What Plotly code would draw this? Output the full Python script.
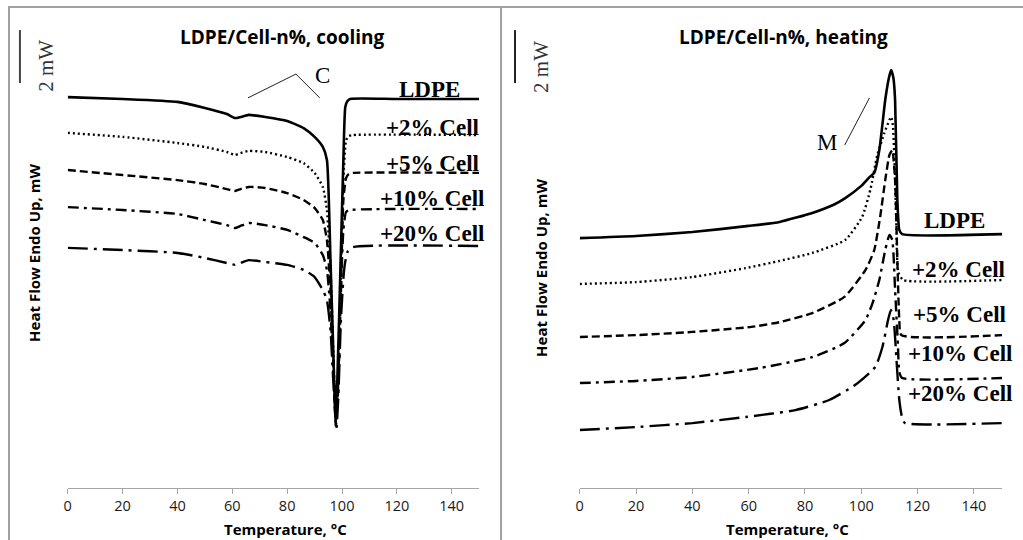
import plotly.graph_objects as go

# ---------------- data (heat flow in mW, curves offset vertically) ----------------
cool_ldpe_T = [0, 20, 40, 50, 58, 61, 63, 66, 72, 80, 86, 90, 93, 94.5, 95.8, 96.8, 97.6, 98.3, 99.5, 100.5, 101.2, 102, 103, 120, 150]
cool_ldpe_Q = [14.75, 14.68, 14.57, 14.34, 14.11, 13.96, 14.00, 14.08, 14.00, 13.85, 13.58, 13.25, 12.87, 12.38, 8.60, 5.21, 2.75, 4.08, 8.60, 12.38, 14.38, 14.60, 14.68, 14.68, 14.68]

cool_2_T = [0, 20, 40, 50, 58, 61, 63, 66, 72, 80, 86, 90, 93, 94.5, 95.8, 96.8, 97.8, 98.5, 99.5, 100.5, 101.5, 102.5, 104, 150]
cool_2_Q = [13.40, 13.25, 13.02, 12.87, 12.68, 12.57, 12.64, 12.72, 12.68, 12.49, 12.26, 11.89, 11.36, 10.49, 8.23, 5.21, 2.38, 3.70, 7.85, 11.62, 13.13, 13.28, 13.32, 13.32]

cool_5_T = [0, 20, 40, 50, 58, 61, 63, 66, 72, 80, 86, 90, 93, 94.5, 95.8, 96.8, 97.8, 98.5, 99.5, 100.5, 101.5, 102.5, 104, 150]
cool_5_Q = [12.00, 11.81, 11.62, 11.47, 11.28, 11.21, 11.28, 11.36, 11.32, 11.13, 10.87, 10.57, 10.11, 9.36, 7.47, 4.83, 2.57, 3.51, 7.09, 10.87, 11.70, 11.85, 11.89, 11.89]

cool_10_T = [0, 20, 40, 50, 58, 61, 63, 66, 72, 80, 86, 90, 93, 94.5, 95.8, 96.8, 97.8, 98.5, 99.5, 100.5, 101.5, 103, 150]
cool_10_Q = [10.60, 10.49, 10.34, 10.11, 9.92, 9.81, 9.89, 10.00, 9.92, 9.74, 9.47, 9.25, 8.79, 8.23, 6.72, 4.45, 2.75, 3.70, 7.09, 9.74, 10.42, 10.49, 10.53]

cool_20_T = [0, 20, 40, 50, 58, 61, 63, 66, 72, 80, 86, 90, 93, 94.5, 95.8, 96.8, 97.9, 98.6, 99.6, 100.5, 101, 102, 104, 150]
cool_20_Q = [9.06, 8.98, 8.87, 8.68, 8.49, 8.42, 8.49, 8.60, 8.53, 8.42, 8.23, 7.96, 7.47, 7.09, 5.96, 4.08, 2.19, 3.32, 6.34, 7.90, 8.42, 8.91, 9.09, 9.13]

heat_ldpe_T = [0, 20, 40, 60, 71, 82.6, 90, 94.3, 100, 103, 104.6, 106.4, 108.5, 109.8, 110.6, 111.4, 112, 112.8, 113.5, 114.5, 150]
heat_ldpe_Q = [9.43, 9.51, 9.66, 9.89, 10.04, 10.38, 10.68, 10.94, 11.40, 11.74, 11.89, 12.75, 14.64, 15.47, 15.77, 15.47, 14.64, 10.87, 9.74, 9.58, 9.58]

heat_2_T = [0, 20, 40, 59, 71, 82.6, 94.3, 100.3, 103.2, 105.7, 108.2, 110, 110.6, 111.2, 111.9, 112.5, 113.1, 114.9, 150]
heat_2_Q = [7.70, 7.77, 7.96, 8.30, 8.57, 8.87, 9.36, 10.23, 11.25, 12.57, 13.40, 13.89, 14.00, 13.70, 12.00, 9.74, 8.15, 7.85, 7.85]

heat_5_T = [0, 20, 40, 61, 71, 82.6, 94, 101.5, 104.6, 106.7, 108.5, 110, 111, 112, 112.8, 113.5, 114.2, 150]
heat_5_Q = [5.70, 5.77, 5.89, 6.08, 6.26, 6.60, 7.21, 8.23, 8.98, 10.23, 11.62, 12.57, 12.75, 11.62, 8.60, 6.34, 5.77, 5.77]

heat_10_T = [0, 20, 40, 64, 82.6, 94, 101.5, 104, 106.4, 108.5, 110, 111, 112, 113, 113.5, 114.5, 150]
heat_10_Q = [3.96, 4.04, 4.19, 4.53, 4.94, 5.47, 6.34, 6.98, 7.85, 8.98, 9.55, 9.36, 7.47, 5.40, 4.38, 4.15, 4.15]

heat_20_T = [0, 20, 40, 59, 76.6, 88.6, 97.8, 105, 107.5, 109.5, 110.5, 111.5, 112.5, 113.5, 114.5, 115.5, 150]
heat_20_Q = [2.19, 2.30, 2.45, 2.68, 2.94, 3.32, 3.89, 4.57, 5.32, 6.34, 6.72, 6.34, 4.83, 3.32, 2.64, 2.45, 2.45]

series_names = ["LDPE", "+2% Cell", "+5% Cell", "+10% Cell", "+20% Cell"]
tick_vals = [0, 20, 40, 60, 80, 100, 120, 140]

cool_label_T = [131.8, 132.9, 132.9, 132.9, 132.9]
cool_label_Q = [15.02, 13.62, 12.26, 10.94, 9.62]
heat_label_T = [133.0, 134.4, 134.8, 135.1, 135.1]
heat_label_Q = [10.11, 8.23, 6.53, 5.09, 3.58]

# ---------------- figure ----------------
dashes = ["solid", "2px,3px", "8px,4px", "11px,5px,3px,5px", "20px,6px,3px,6px"]
widths = [2.6, 2.4, 2.4, 2.4, 2.4]

cool = [(cool_ldpe_T, cool_ldpe_Q), (cool_2_T, cool_2_Q), (cool_5_T, cool_5_Q),
        (cool_10_T, cool_10_Q), (cool_20_T, cool_20_Q)]
heat = [(heat_ldpe_T, heat_ldpe_Q), (heat_2_T, heat_2_Q), (heat_5_T, heat_5_Q),
        (heat_10_T, heat_10_Q), (heat_20_T, heat_20_Q)]

fig = go.Figure()
for i, (t, q) in enumerate(cool):
    fig.add_trace(go.Scatter(x=t, y=q, mode="lines", name=series_names[i], xaxis="x", yaxis="y",
                             line=dict(color="black", width=widths[i], dash=dashes[i],
                                       shape="spline", smoothing=0.5), showlegend=False))
for i, (t, q) in enumerate(heat):
    fig.add_trace(go.Scatter(x=t, y=q, mode="lines", name=series_names[i], xaxis="x2", yaxis="y2",
                             line=dict(color="black", width=widths[i], dash=dashes[i],
                                       shape="spline", smoothing=0.5), showlegend=False))

W, H = 1023, 540
YMAX = 480 / 26.5
axis_common = dict(range=[0, 150], tickvals=tick_vals, showgrid=False, zeroline=False,
                   showline=True, linecolor="#a6a6a6", linewidth=1, ticks="outside",
                   tickcolor="#a6a6a6", ticklen=5,
                   tickfont=dict(family="Open Sans", size=14.5, color="#1a1a1a"))
yaxis_common = dict(range=[0, YMAX], visible=False, domain=[52 / H, 532 / H])

fig.update_layout(
    width=W, height=H, margin=dict(l=0, r=0, t=0, b=0),
    paper_bgcolor="white", plot_bgcolor="white",
    xaxis=dict(domain=[64 / W, 477 / W], anchor="y", **axis_common),
    xaxis2=dict(domain=[578 / W, 1002 / W], anchor="y2", **axis_common),
    yaxis=dict(anchor="x", **yaxis_common),
    yaxis2=dict(anchor="x2", **yaxis_common),
)


def txt(x, y, text, font, xref="paper", yref="paper", angle=0):
    return dict(x=x, y=y, xref=xref, yref=yref, text=text, showarrow=False, font=font,
                xanchor="center", yanchor="middle", textangle=angle)


ann = []
lab_font = dict(family="Liberation Serif", size=23, color="black")
for i in range(5):
    ann.append(txt(cool_label_T[i], cool_label_Q[i], "<b>%s</b>" % series_names[i], lab_font, "x", "y"))
    ann.append(txt(heat_label_T[i], heat_label_Q[i], "<b>%s</b>" % series_names[i], lab_font, "x2", "y2"))

title_font = dict(family="Open Sans", size=19, color="black")
axt_font = dict(family="Open Sans", size=15, color="black")
yt_font = dict(family="Open Sans", size=15, color="black")
serif_mw = dict(family="Liberation Serif", size=21, color="#333")
serif_cm = dict(family="Liberation Serif", size=23, color="black")
ann += [
    txt(280 / W, 1 - 37 / H, "<b>LDPE/Cell-n%, cooling</b>", title_font),
    txt(783 / W, 1 - 37 / H, "<b>LDPE/Cell-n%, heating</b>", title_font),
    txt(283 / W, 1 - 529 / H, "<b>Temperature, °C</b>", axt_font),
    txt(787 / W, 1 - 529 / H, "<b>Temperature, °C</b>", axt_font),
    txt(30 / W, 1 - 253 / H, "<b>Heat Flow Endo Up, mW</b>", yt_font, angle=-90),
    txt(539 / W, 1 - 268 / H, "<b>Heat Flow Endo Up, mW</b>", yt_font, angle=-90),
    txt(42 / W, 1 - 66 / H, "2 mW", serif_mw, angle=-90),
    txt(539 / W, 1 - 67 / H, "2 mW", serif_mw, angle=-90),
    txt(93.0, 15.58, "C", serif_cm, "x", "y"),
    txt(87.7, 13.02, "M", serif_cm, "x2", "y2"),
]
fig.update_layout(annotations=ann)

shapes = [
    # panel frames
    dict(type="rect", xref="paper", yref="paper", x0=5 / W, x1=499 / W, y0=-0.05, y1=1 - 7 / H,
         line=dict(color="#a0a0a0", width=2), fillcolor="rgba(0,0,0,0)", layer="below"),
    dict(type="line", xref="paper", yref="paper", x0=499 / W, x1=1.0, y0=1 - 7 / H, y1=1 - 7 / H,
         line=dict(color="#a0a0a0", width=2)),
    # 2 mW scale bars
    dict(type="line", xref="paper", yref="y", x0=16 / W, x1=16 / W, y0=15.28, y1=17.28,
         line=dict(color="#444", width=2)),
    dict(type="line", xref="paper", yref="y2", x0=513 / W, x1=513 / W, y0=15.28, y1=17.28,
         line=dict(color="#222", width=2)),
    # C marker lines
    dict(type="line", xref="x", yref="y", x0=65.7, y0=14.72, x1=83.2, y1=15.62, line=dict(color="#222", width=1)),
    dict(type="line", xref="x", yref="y", x0=83.2, y0=15.62, x1=91.9, y1=14.72, line=dict(color="#222", width=1)),
    # M marker line
    dict(type="line", xref="x2", yref="y2", x0=94.1, y0=12.94, x1=102.9, y1=14.72, line=dict(color="#222", width=1)),
]
fig.update_layout(shapes=shapes)

fig.write_html("out.html")
